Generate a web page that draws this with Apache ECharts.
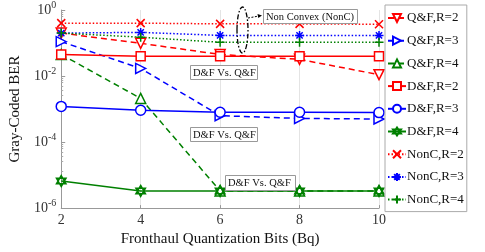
<!DOCTYPE html>
<html><head><meta charset="utf-8">
<script src="https://cdn.jsdelivr.net/npm/echarts@6/dist/echarts.min.js"></script>
<style>html,body{margin:0;padding:0;background:#fff}#c{width:485px;height:252px}</style>
</head><body><div id="c"></div>
<script>
const xs = [2, 4, 6, 8, 10];
const qf2 = [0.2, 0.098, 0.045, 0.032, 0.011];
const qf3 = [0.11, 0.017, 6.3e-4, 5.2e-4, 5.0e-4];
const qf4 = [0.045, 2.1e-3, 3.3e-6, 3.3e-6, 3.3e-6];
const df2 = [0.045, 0.04, 0.04, 0.04, 0.04];
const df3 = [1.2e-3, 9.2e-4, 8.0e-4, 8.0e-4, 7.8e-4];
const df4 = [6.6e-6, 3.3e-6, 3.3e-6, 3.3e-6, 3.3e-6];
const nc2 = [0.4, 0.4, 0.38, 0.38, 0.37];
const nc3 = [0.2, 0.21, 0.17, 0.17, 0.17];
const nc4 = [0.2, 0.15, 0.105, 0.105, 0.105];
const names = ['Q&F,R=2','Q&F,R=3','Q&F,R=4','D&F,R=2','D&F,R=3','D&F,R=4','NonC,R=2','NonC,R=3','NonC,R=4'];
const xTicks = [2, 4, 6, 8, 10];

const RED = '#ff0000', BLUE = '#0000ff', GREEN = '#008000';
const FONT = 'Liberation Serif';
const hexagram = 'path://M0,-10L8.66,5L-8.66,5Z M0,10L8.66,-5L-8.66,-5Z';
const xMark = 'path://M-5,-5L5,5M-5,5L5,-5';
const plusMark = 'path://M-5,0L5,0M0,-5L0,5';
const starMark = 'path://M-5,0L5,0M0,-5L0,5M-3.5,-3.5L3.5,3.5M-3.5,3.5L3.5,-3.5';

function mk(name, data, color, type, symbol, rot, size, fill) {
  return {
    name, type: 'line', data: xs.map((x, i) => [x, data[i]]),
    symbol, symbolSize: size, symbolRotate: rot, symbolKeepAspect: true,
    lineStyle: { color, width: 1.5, type },
    itemStyle: { color: fill, borderColor: color, borderWidth: 1.5 },
    z: 3
  };
}
const series = [
  mk(names[0], qf2, RED, [6, 4], 'triangle', 180, 10, '#fff'),
  mk(names[1], qf3, BLUE, [6, 4], 'triangle', -90, 10, '#fff'),
  mk(names[2], qf4, GREEN, [6, 4], 'triangle', 0, 10, '#fff'),
  mk(names[3], df2, RED, 'solid', 'rect', 0, 9, '#fff'),
  mk(names[4], df3, BLUE, 'solid', 'circle', 0, 10, '#fff'),
  mk(names[5], df4, GREEN, 'solid', hexagram, 0, 11, GREEN),
  mk(names[6], nc2, RED, [1.5, 2], xMark, 0, 8, RED),
  mk(names[7], nc3, BLUE, [1.5, 2], starMark, 0, 9, BLUE),
  mk(names[8], nc4, GREEN, [1.5, 2], plusMark, 0, 9, GREEN)
];

const chart = echarts.init(document.getElementById('c'), null, { renderer: 'canvas' });
const boxStyle = { fill: '#fff', stroke: '#999', lineWidth: 1 };
function labelBox(x, y, w, h, text) {
  return [
    { type: 'rect', left: x, top: y, shape: { width: w, height: h }, style: boxStyle, z: 10 },
    { type: 'text', left: x + 3, top: y + 2.5, style: { text, font: '10.5px "Liberation Serif"', fill: '#111' }, z: 11 }
  ];
}
chart.setOption({
  animation: false,
  textStyle: { fontFamily: FONT },
  grid: { left: 60, right: 106, top: 7, bottom: 35 },
  xAxis: {
    type: 'value', min: 2, max: 10, interval: 2,
    name: 'Fronthaul Quantization Bits (Bq)', nameLocation: 'middle', nameGap: 18,
    nameTextStyle: { fontFamily: FONT, fontSize: 15, color: '#111' },
    axisLine: { lineStyle: { color: '#999' } },
    axisTick: { inside: true, length: 3, lineStyle: { color: '#999' } },
    axisLabel: { fontFamily: FONT, fontSize: 14, color: '#333', margin: 5,
      formatter: v => xTicks.includes(v) ? String(v) : '' },
    splitLine: { show: true, lineStyle: { color: '#e4e4e4', width: 1 } }
  },
  yAxis: {
    type: 'log', logBase: 10, min: 1e-6, max: 1, interval: 2,
    name: 'Gray-Coded BER', nameLocation: 'middle', nameGap: 38,
    nameTextStyle: { fontFamily: FONT, fontSize: 15, color: '#111' },
    axisLine: { show: true, lineStyle: { color: '#999' } },
    axisTick: { show: true, inside: true, length: 4, lineStyle: { color: '#999' } },
    minorTick: { show: true, splitNumber: 8, length: 2, lineStyle: { color: '#aaa' } },
    splitLine: { show: false },
    axisLabel: {
      margin: 5,
      formatter: v => '{b|10}{s|' + Math.round(Math.log10(v)) + '}',
      rich: {
        b: { fontFamily: FONT, fontSize: 14, color: '#333' },
        s: { fontFamily: FONT, fontSize: 10, color: '#333', verticalAlign: 'top', padding: [0, 0, 10, 0] }
      }
    }
  },
  legend: {
    orient: 'vertical', left: 385, top: 5,
    padding: [6, 3, 5, 2], itemGap: 8.7, itemWidth: 18, itemHeight: 10,
    backgroundColor: '#fff', borderColor: '#aaa', borderWidth: 1,
    textStyle: { fontFamily: FONT, fontSize: 13, lineHeight: 14, color: '#111', padding: [0, 0, 0, -4] },
    data: names
  },
  series,
  graphic: [
    { type: 'ellipse', shape: { cx: 242.5, cy: 30, rx: 5.5, ry: 23 },
      style: { fill: 'none', stroke: '#000', lineWidth: 1.3, lineDash: [5, 2, 1.5, 2] }, z: 10 },
    { type: 'line', shape: { x1: 248, y1: 18, x2: 259, y2: 16 },
      style: { stroke: '#000', lineWidth: 1, lineDash: [2, 1.5] }, z: 10 },
    { type: 'polygon', shape: { points: [[262, 15.5], [257.5, 14], [258.3, 18]] }, style: { fill: '#000' }, z: 10 },
    ...labelBox(263, 9, 94, 14, 'Non Convex (NonC)'),
    ...labelBox(190, 65, 67, 14, 'D&F Vs. Q&F'),
    ...labelBox(190, 127, 67, 14, 'D&F Vs. Q&F'),
    ...labelBox(225, 175, 70, 15, 'D&F Vs. Q&F')
  ]
});
</script></body></html>
